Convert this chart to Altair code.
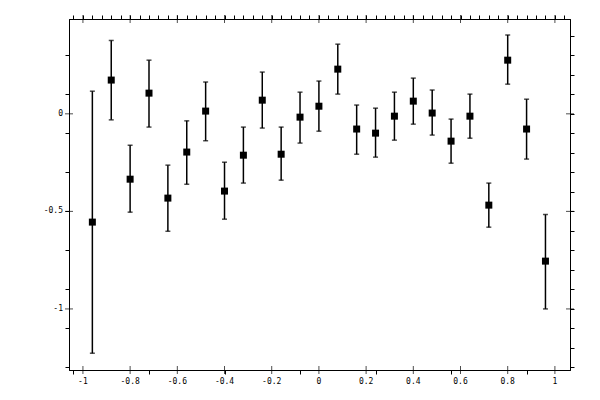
import altair as alt
import pandas as pd

X = [-0.96, -0.88, -0.80, -0.72, -0.64, -0.56, -0.48, -0.40, -0.32, -0.24, -0.16, -0.08,
     0.00, 0.08, 0.16, 0.24, 0.32, 0.40, 0.48, 0.56, 0.64, 0.72, 0.80, 0.88, 0.96]
Y = [-0.555, 0.173, -0.335, 0.106, -0.432, -0.196, 0.014, -0.396, -0.212, 0.070, -0.207, -0.017,
     0.039, 0.229, -0.078, -0.099, -0.012, 0.065, 0.004, -0.140, -0.012, -0.468, 0.275, -0.078, -0.755]
HI = [0.116, 0.376, -0.161, 0.275, -0.263, -0.036, 0.163, -0.248, -0.068, 0.214, -0.068, 0.111,
      0.168, 0.357, 0.045, 0.029, 0.111, 0.183, 0.122, -0.027, 0.101, -0.355, 0.404, 0.075, -0.516]
LO = [-1.227, -0.031, -0.504, -0.068, -0.602, -0.361, -0.138, -0.540, -0.355, -0.073, -0.340, -0.150,
      -0.089, 0.101, -0.207, -0.222, -0.135, -0.053, -0.109, -0.253, -0.125, -0.581, 0.152, -0.232, -1.000]

X_MAJOR = [-1.0, -0.8, -0.6, -0.4, -0.2, 0.0, 0.2, 0.4, 0.6, 0.8, 1.0]
X_LABELS = ["-1", "-0.8", "-0.6", "-0.4", "-0.2", "0", "0.2", "0.4", "0.6", "0.8", "1"]
X_TICKS = [-1.04, -1.0, -0.96, -0.92, -0.88, -0.84, -0.8, -0.76, -0.72, -0.68, -0.64, -0.6, -0.56,
           -0.52, -0.48, -0.44, -0.4, -0.36, -0.32, -0.28, -0.24, -0.2, -0.16, -0.12, -0.08, -0.04,
           0.0, 0.04, 0.08, 0.12, 0.16, 0.2, 0.24, 0.28, 0.32, 0.36, 0.4, 0.44, 0.48, 0.52, 0.56,
           0.6, 0.64, 0.68, 0.72, 0.76, 0.8, 0.84, 0.88, 0.92, 0.96, 1.0, 1.04]
Y_MAJOR = [-1.0, -0.5, 0.0]
Y_LABELS = ["-1", "-0.5", "0"]
Y_TICKS = [-1.3, -1.2, -1.1, -1.0, -0.9, -0.8, -0.7, -0.6, -0.5, -0.4, -0.3, -0.2, -0.1,
           0.0, 0.1, 0.2, 0.3, 0.4]

X_DOMAIN = [-1.059, 1.064]
Y_DOMAIN = [-1.313, 0.486]
W, H = 501, 351

df = pd.DataFrame({"x": X, "y": Y, "hi": HI, "lo": LO})
xmaj = pd.DataFrame({"v": X_MAJOR, "t": X_LABELS})
ymaj = pd.DataFrame({"v": Y_MAJOR, "t": Y_LABELS})

FONT = "DejaVu Sans Mono"


def axis(orient, vals):
    return alt.Axis(
        orient=orient, values=vals, title=None, grid=False, labels=False,
        tickSize=4, tickColor="black", tickWidth=1,
        domainColor="black", domainWidth=1,
    )


def xsc():
    return alt.Scale(domain=X_DOMAIN, nice=False, zero=False)


def ysc():
    return alt.Scale(domain=Y_DOMAIN, nice=False, zero=False)


base = alt.Chart(df)

bars = base.mark_rule(color="black", strokeWidth=1.5).encode(
    x=alt.X("x:Q", scale=xsc(), axis=axis("bottom", X_TICKS)),
    y=alt.Y("lo:Q", scale=ysc(), axis=axis("left", Y_TICKS)),
    y2="hi:Q",
)
cap_hi = base.mark_tick(color="black", orient="horizontal", size=5, thickness=1.5).encode(
    x=alt.X("x:Q"), y=alt.Y("hi:Q")
)
cap_lo = base.mark_tick(color="black", orient="horizontal", size=5, thickness=1.5).encode(
    x=alt.X("x:Q"), y=alt.Y("lo:Q")
)
pts = base.mark_square(color="black", size=49, opacity=1).encode(
    x=alt.X("x:Q"), y=alt.Y("y:Q")
)
# inner halves of the major ticks on all four sides
xt_bot = alt.Chart(xmaj).mark_tick(color="black", orient="vertical", size=8, thickness=1).encode(
    x=alt.X("v:Q"), y=alt.value(H)
)
xt_top = alt.Chart(xmaj).mark_tick(color="black", orient="vertical", size=8, thickness=1).encode(
    x=alt.X("v:Q"), y=alt.value(0)
)
yt_left = alt.Chart(ymaj).mark_tick(color="black", orient="horizontal", size=8, thickness=1).encode(
    y=alt.Y("v:Q"), x=alt.value(0)
)
yt_right = alt.Chart(ymaj).mark_tick(color="black", orient="horizontal", size=8, thickness=1).encode(
    y=alt.Y("v:Q"), x=alt.value(W)
)
# tick labels
xlab = alt.Chart(xmaj).mark_text(font=FONT, fontSize=8, color="black", baseline="top",
                                 align="center").encode(
    x=alt.X("v:Q"), y=alt.value(H + 8), text="t:N"
)
ylab = alt.Chart(ymaj).mark_text(font=FONT, fontSize=8, color="black", baseline="middle",
                                 align="right").encode(
    y=alt.Y("v:Q"), x=alt.value(-6), text="t:N"
)
main = alt.layer(bars, cap_hi, cap_lo, pts, xt_bot, xt_top, yt_left, yt_right, xlab, ylab)

mirror = base.mark_point(opacity=0).encode(
    x=alt.X("x:Q", scale=xsc(), axis=axis("top", X_TICKS)),
    y=alt.Y("y:Q", scale=ysc(), axis=axis("right", Y_TICKS)),
)

chart = alt.layer(main, mirror).resolve_scale(x="independent", y="independent").properties(
    width=W, height=H,
    autosize=alt.AutoSizeParams(type="none"),
    padding={"left": 61, "top": 11, "right": 20, "bottom": 30},
    background="white",
).configure_view(stroke="black", strokeWidth=1)

chart.save("out.html", embed_options={"renderer": "svg", "actions": False})
